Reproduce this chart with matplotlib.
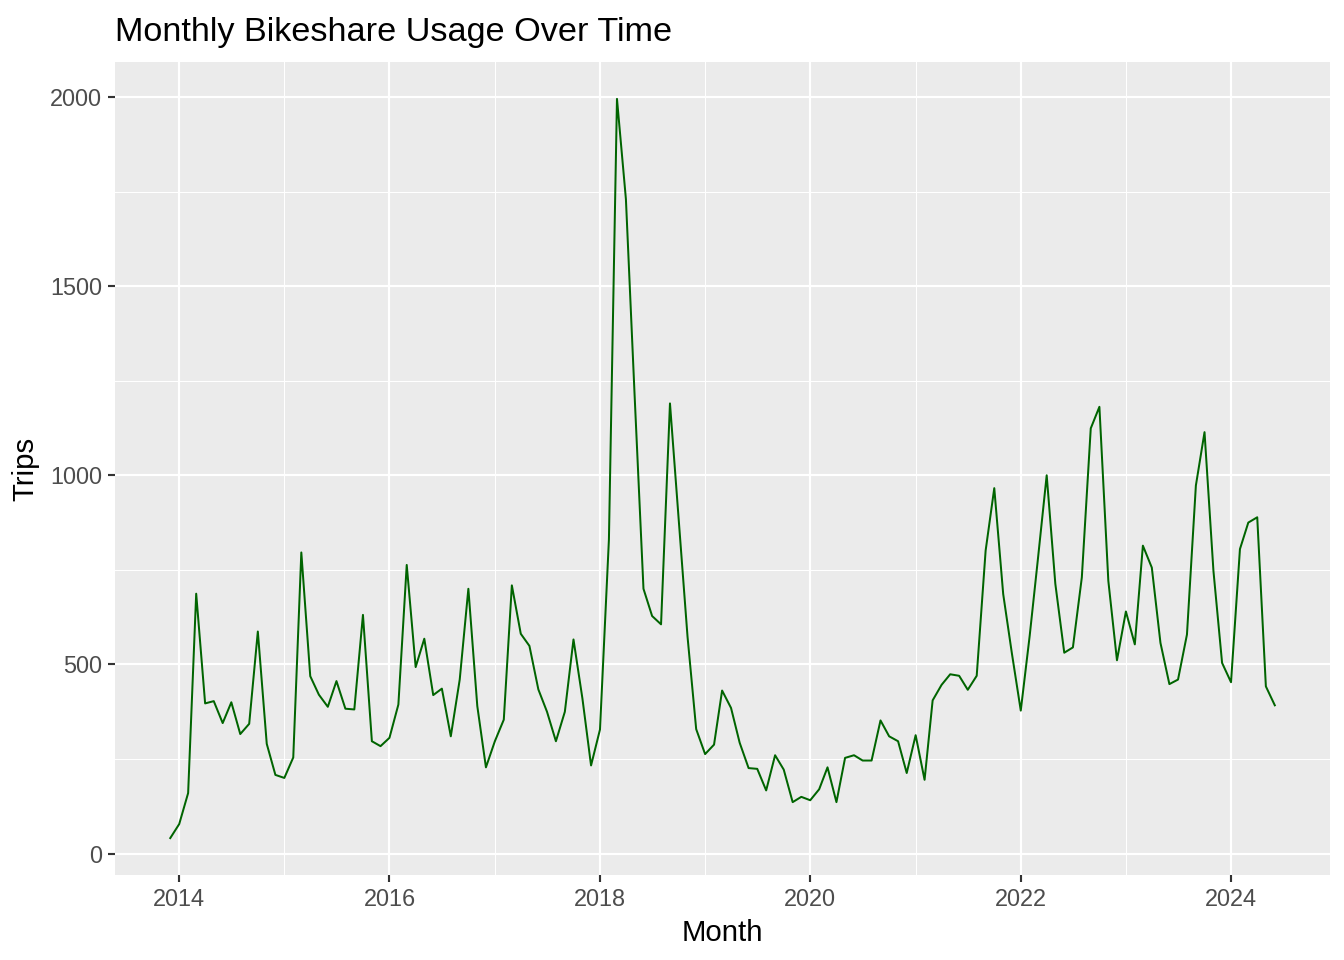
import numpy as np
import pandas as pd
import matplotlib
matplotlib.use("Agg")
import matplotlib.pyplot as plt
import matplotlib.dates as mdates

# Monthly trip counts, Dec 2013 .. Jun 2024
start_month = "2013-12-01"
trips_2013 = [41]
trips_2014 = [78, 160, 687, 397, 403, 345, 400, 316, 343, 587, 290, 208]
trips_2015 = [200, 254, 796, 469, 420, 388, 456, 383, 381, 631, 297, 284]
trips_2016 = [306, 394, 763, 493, 568, 419, 436, 310, 460, 700, 390, 228]
trips_2017 = [297, 354, 709, 581, 549, 434, 375, 297, 375, 566, 410, 233]
trips_2018 = [328, 830, 1995, 1730, 1215, 700, 628, 606, 1190, 886, 573, 329]
trips_2019 = [263, 288, 431, 385, 293, 226, 224, 167, 260, 222, 136, 150]
trips_2020 = [141, 170, 228, 136, 253, 260, 246, 246, 352, 310, 297, 213]
trips_2021 = [313, 195, 405, 446, 474, 470, 433, 470, 801, 966, 686, 530]
trips_2022 = [378, 576, 775, 1000, 713, 531, 545, 730, 1124, 1181, 721, 511]
trips_2023 = [640, 553, 814, 756, 557, 448, 460, 579, 973, 1114, 747, 504]
trips_2024 = [453, 805, 875, 889, 442, 392]

trips = (trips_2013 + trips_2014 + trips_2015 + trips_2016 + trips_2017
         + trips_2018 + trips_2019 + trips_2020 + trips_2021 + trips_2022
         + trips_2023 + trips_2024)
months = pd.date_range(start_month, periods=len(trips), freq="MS")

y_ticks = [0, 500, 1000, 1500, 2000]
y_minor = [250, 750, 1250, 1750]

plt.rcParams["font.family"] = ["Liberation Sans", "DejaVu Sans"]

fig = plt.figure(figsize=(7, 5), dpi=192)
ax = fig.add_axes([0.0856, 0.0885, 0.904, 0.847])

ax.set_facecolor("#EBEBEB")
for side in ax.spines.values():
    side.set_visible(False)

ax.plot(months, trips, color="#006400", linewidth=0.75, zorder=3)

ax.margins(x=0.05, y=0.05)

# ggplot-like grid: white major, thinner white minor
ax.xaxis.set_major_locator(mdates.YearLocator(2))
ax.xaxis.set_minor_locator(mdates.YearLocator(1))
ax.xaxis.set_major_formatter(mdates.DateFormatter("%Y"))
ax.set_yticks(y_ticks)
ax.set_yticks(y_minor, minor=True)
ax.grid(which="major", color="white", linewidth=0.8)
ax.grid(which="minor", color="white", linewidth=0.4)
ax.set_axisbelow(True)

ax.tick_params(which="major", length=2.75, width=0.8, color="#333333",
               labelsize=8.8, labelcolor="#4D4D4D", pad=2.2)
ax.tick_params(which="minor", length=0)

ax.set_xlabel("Month", fontsize=11, color="black", labelpad=3)
ax.set_ylabel("Trips", fontsize=11, color="black", labelpad=4)
ax.set_title("Monthly Bikeshare Usage Over Time", loc="left",
             fontsize=12.85, color="black", pad=8)

fig.savefig("out.png", dpi=192)
